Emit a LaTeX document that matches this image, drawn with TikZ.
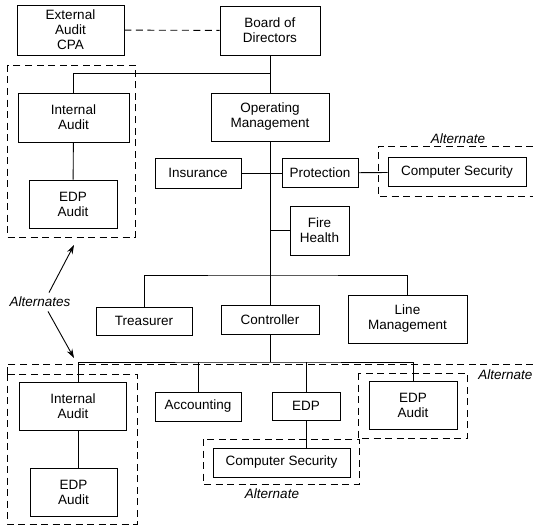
\documentclass[tikz,border=0pt]{standalone}
\usepackage{fontspec}
\setmainfont{Liberation Sans}
\usetikzlibrary{positioning,calc,arrows.meta}
\tikzset{
    unit/.style={draw, line width=0.9pt, align=center, inner sep=0pt, font=\fontsize{13.5}{15}\selectfont},
    altbox/.style={draw, line width=0.9pt, dash pattern=on 7pt off 4.5pt},
    altnote/.style={inner sep=0pt, font=\fontsize{13.5}{15}\selectfont\itshape}
}
\begin{document}
\begin{tikzpicture}[x=1pt, y=-1pt, line width=0.9pt]
    \useasboundingbox (0,0) rectangle (533,527);

    % Board and external audit
    \node[unit, minimum width=107pt, minimum height=50pt] (EA) at (70.5,30) {External\\Audit\\CPA};
    \node[unit, minimum width=100pt, minimum height=49pt] (BD) at (270,30.5) {Board of\\Directors};
    \draw[dash pattern=on 7pt off 4.5pt] (EA) -- (BD);

    % Internal audit (upper)
    \node[unit, minimum width=111pt, minimum height=49pt] (IA1) at (73.5,117.5) {Internal\\Audit};
    \node[unit, minimum width=88pt, minimum height=48pt] (EDPA1) at (73,204) {EDP\\Audit};
    \draw (IA1) -- (EDPA1);
    \draw[altbox] (7,65) rectangle (135,237);

    % Operating management
    \node[unit, minimum width=118pt, minimum height=48pt] (OM) at (270,117) {Operating\\Management};
    \coordinate (B1) at (270,73);
    \draw (BD) -- (OM);
    \draw (IA1.north) |- (B1);

    % Protection branch
    \node[unit, minimum width=86pt, minimum height=30pt] (INS) at (198,173) {Insurance};
    \node[unit, minimum width=76pt, minimum height=29pt] (PR) at (320,173) {Protection};
    \node[unit, minimum width=138pt, minimum height=29pt] (CS1) at (457,172) {Computer Security};
    \node[unit, minimum width=59pt, minimum height=49pt] (FH) at (319.5,230.5) {Fire\\Health};
    \draw (INS) -- (PR);
    \draw (PR) -- (CS1);
    \draw (FH.west) -- (FH.west -| OM.south);
    \draw[altbox] (533,146) -- (378,146) -- (378,196) -- (533,196);
    \node[altnote] (ALT1) at (458,139) {Alternate};

    % Second level
    \node[unit, minimum width=96pt, minimum height=28pt] (TR) at (144,321) {Treasurer};
    \node[unit, minimum width=98pt, minimum height=29pt] (CT) at (270,319.5) {Controller};
    \node[unit, minimum width=119pt, minimum height=48pt] (LM) at (407.5,319) {Line\\Management};
    \coordinate (B2) at (270,275);
    \draw (OM) -- (CT);
    \draw (TR.north) |- (B2) -| (LM.north);

    % Controller departments
    \node[unit, minimum width=107pt, minimum height=48pt] (IA2) at (73,406) {Internal\\Audit};
    \node[unit, minimum width=87pt, minimum height=48pt] (EDPA2) at (73.5,492) {EDP\\Audit};
    \node[unit, minimum width=86pt, minimum height=29pt] (AC) at (198,406.5) {Accounting};
    \node[unit, minimum width=68pt, minimum height=28pt] (EDP) at (306,406) {EDP};
    \node[unit, minimum width=137pt, minimum height=29pt] (CS2) at (281.5,462.5) {Computer Security};
    \node[unit, minimum width=88pt, minimum height=48pt] (EDPA3) at (413,405) {EDP\\Audit};
    \coordinate (B3) at (270,362);
    \draw (CT) -- (B3);
    \draw ([xshift=5pt]IA2.north) |- (B3) -| (EDPA3.north);
    \draw (AC.north) -- (AC.north |- B3);
    \draw (EDP.north) -- (EDP.north |- B3);
    \draw (EDP.south) -- (EDP.south |- CS2.north);
    \draw ([xshift=5pt]IA2.south) -- ([xshift=5pt]IA2.south |- EDPA2.north);

    % Alternates
    \draw[altbox] (533,364) -- (7,364) -- (7,374);
    \draw[altbox] (7,374) rectangle (137,524);
    \draw[altbox] (358,373) rectangle (467,438);
    \draw[altbox] (203,439) rectangle (359,484);
    \node[altnote, anchor=west] (ALT2) at (478,375) {Alternate};
    \node[altnote] (ALT3) at (272,494) {Alternate};
    \node[altnote] (ALT) at (40,302) {Alternates};
    \coordinate (P1) at (74,245);
    \coordinate (P2) at (74,358);
    \draw[-{Stealth[length=9pt,width=6pt]}] ([xshift=9pt,yshift=4pt]ALT.north) -- (P1);
    \draw[-{Stealth[length=9pt,width=6pt]}] ([xshift=8pt,yshift=-4pt]ALT.south) -- (P2);

\end{tikzpicture}
\end{document}
